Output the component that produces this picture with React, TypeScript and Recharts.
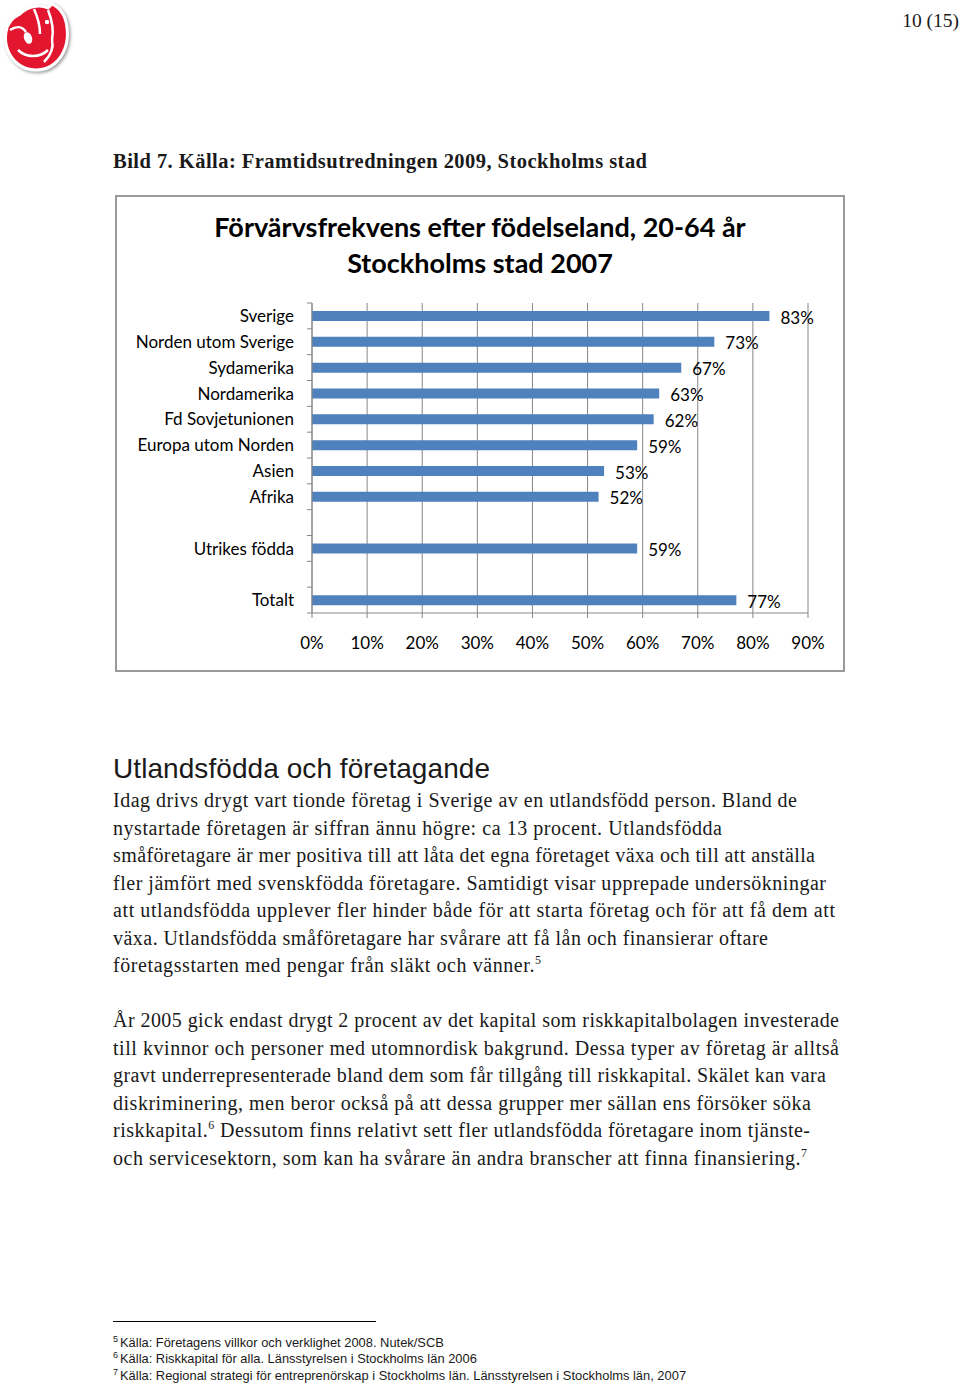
import React from "react";
import { BarChart, Bar, XAxis, YAxis, CartesianGrid, LabelList } from "recharts";

const categories = [
  "Sverige",
  "Norden utom Sverige",
  "Sydamerika",
  "Nordamerika",
  "Fd Sovjetunionen",
  "Europa utom Norden",
  "Asien",
  "Afrika",
  "",
  "Utrikes födda",
  "",
  "Totalt",
];
const values: (number | null)[] = [83, 73, 67, 63, 62, 59, 53, 52, null, 59, null, 77];
const xTicks = [0, 10, 20, 30, 40, 50, 60, 70, 80, 90];

const paragraph1 = [
  "Idag drivs drygt vart tionde företag i Sverige av en utlandsfödd person. Bland de",
  "nystartade företagen är siffran ännu högre: ca 13 procent. Utlandsfödda",
  "småföretagare är mer positiva till att låta det egna företaget växa och till att anställa",
  "fler jämfört med svenskfödda företagare. Samtidigt visar upprepade undersökningar",
  "att utlandsfödda upplever fler hinder både för att starta företag och för att få dem att",
  "växa. Utlandsfödda småföretagare har svårare att få lån och finansierar oftare",
  "företagsstarten med pengar från släkt och vänner.|5",
];
const paragraph1Widths = [684, 609, 702, 713, 722, 655, 428];
const paragraph2 = [
  "År 2005 gick endast drygt 2 procent av det kapital som riskkapitalbolagen investerade",
  "till kvinnor och personer med utomnordisk bakgrund. Dessa typer av företag är alltså",
  "gravt underrepresenterade bland dem som får tillgång till riskkapital. Skälet kan vara",
  "diskriminering, men beror också på att dessa grupper mer sällan ens försöker söka",
  "riskkapital.|6| Dessutom finns relativt sett fler utlandsfödda företagare inom tjänste-",
  "och servicesektorn, som kan ha svårare än andra branscher att finna finansiering.|7",
];
const paragraph2Widths = [726, 726, 713, 698, 697, 694];
const footnotes = [
  ["5", "Källa: Företagens villkor och verklighet 2008. Nutek/SCB"],
  ["6", "Källa: Riskkapital för alla. Länsstyrelsen i Stockholms län 2006"],
  ["7", "Källa: Regional strategi för entreprenörskap i Stockholms län. Länsstyrelsen i Stockholms län, 2007"],
];

const data = categories.map((name, i) => ({ id: i, name, value: values[i] }));

const CHART_FONT = "Lato, 'Open Sans', sans-serif";
const SERIF = "'Liberation Serif', 'DejaVu Serif', serif";
const SANS = "'Liberation Sans', Arial, sans-serif";
const GRID = "#868686";
const BAR = "#4F81BD";
const TEXT = "#1a1a1a";

const PLOT_H = 310;
const Y_TICK_SIZE = 5;
const Y_TICK_MARGIN = 13;

function YTick(props: any) {
  const { x, y, payload, index } = props;
  const rowH = PLOT_H / categories.length;
  const axisX = x + Y_TICK_SIZE + Y_TICK_MARGIN;
  const label = categories[payload.value] ?? "";
  return (
    <g>
      <line x1={axisX - 5} x2={axisX} y1={y - rowH / 2} y2={y - rowH / 2} stroke={GRID} />
      {index === categories.length - 1 && (
        <line x1={axisX - 5} x2={axisX} y1={y + rowH / 2} y2={y + rowH / 2} stroke={GRID} />
      )}
      <text x={x} y={y} dy="0.36em" textAnchor="end" fill="#000" fontSize={17} fontFamily={CHART_FONT}>
        {label}
      </text>
    </g>
  );
}

function SvgLine({ text, x, y, size, family, weight, width, anchor, supSize, supRise }: any) {
  const parts = String(text).split("|");
  const ss = supSize ?? size * 0.62;
  const rise = supRise ?? size * 0.42;
  return (
    <text
      x={x}
      y={y}
      fontSize={size}
      fontFamily={family}
      fontWeight={weight || "normal"}
      fill={TEXT}
      textAnchor={anchor || "start"}
      textLength={width}
      lengthAdjust={width ? "spacing" : undefined}
      style={{ whiteSpace: "pre" }}
    >
      {parts.map((p, i) =>
        i % 2 === 1 ? (
          <tspan key={i} fontSize={ss} dy={-rise}>
            {p}
          </tspan>
        ) : (
          <tspan key={i} dy={i > 0 ? rise : 0}>
            {p}
          </tspan>
        )
      )}
    </text>
  );
}

function Logo() {
  return (
    <svg width={80} height={80} style={{ position: "absolute", left: 0, top: 0 }}>
      <defs>
        <filter id="sh" x="-20%" y="-20%" width="140%" height="140%">
          <feDropShadow dx="1.5" dy="1.5" stdDeviation="1.5" floodColor="#999" />
        </filter>
      </defs>
      <g filter="url(#sh)">
        <path
          d="M20 14 C28 6 40 4 48 8 L52 4 C60 8 66 16 67 28 C69 42 64 56 54 64 C44 72 28 72 18 64 C8 56 4 44 6 32 C7 24 12 18 20 14 Z"
          fill="#E2142D"
          stroke="#fff"
          strokeWidth={3}
        />
        <path d="M34 9 C38 18 40 26 40 34" stroke="#fff" strokeWidth={2.5} fill="none" />
        <path d="M48 10 C52 20 54 30 52 40" stroke="#fff" strokeWidth={2.5} fill="none" />
        <path d="M18 50 C26 58 40 58 48 50" stroke="#fff" strokeWidth={2.5} fill="none" />
        <path d="M52 40 C54 48 50 56 44 62" stroke="#fff" strokeWidth={2.5} fill="none" />
        <path d="M10 30 C16 26 22 26 26 32" stroke="#fff" strokeWidth={2.5} fill="none" />
        <ellipse cx={28} cy={38} rx={4} ry={6} fill="#fff" transform="rotate(-20 28 38)" />
        <circle cx={47} cy={22} r={2.2} fill="#fff" />
      </g>
    </svg>
  );
}

export default function App() {
  const lineGap = 27.55;
  return (
    <div style={{ position: "absolute", left: 0, top: 0, width: 960, height: 1383, background: "#fff", overflow: "hidden" }}>
      <Logo />
      <svg width={960} height={1383} style={{ position: "absolute", left: 0, top: 0 }}>
        <SvgLine text="10 (15)" x={959} y={27} size={19.5} family={SERIF} anchor="end" />
        <SvgLine
          text="Bild 7. Källa: Framtidsutredningen 2009, Stockholms stad"
          x={113}
          y={168}
          size={20.5}
          family={SERIF}
          weight="bold"
          width={534}
        />
        <SvgLine text="Utlandsfödda och företagande" x={113} y={777.5} size={28} family={SANS} width={377} />
        {paragraph1.map((t, i) => (
          <SvgLine
            key={"p1" + i}
            text={t}
            x={113}
            y={807 + i * lineGap}
            size={20}
            family={SERIF}
            width={paragraph1Widths[i]}
            supSize={12}
            supRise={8}
          />
        ))}
        {paragraph2.map((t, i) => (
          <SvgLine
            key={"p2" + i}
            text={t}
            x={113}
            y={1027 + i * lineGap}
            size={20}
            family={SERIF}
            width={paragraph2Widths[i]}
            supSize={12}
            supRise={8}
          />
        ))}
        <line x1={113} x2={376} y1={1321.5} y2={1321.5} stroke="#000" strokeWidth={1} />
        {footnotes.map(([n, t], i) => (
          <g key={"f" + i}>
            <text x={113} y={1341.5 + i * 16.8} fontSize={9} fontFamily={SANS} fill={TEXT}>
              {n}
            </text>
            <text x={120} y={1346.5 + i * 16.8} fontSize={12.9} fontFamily={SANS} fill={TEXT}>
              {t}
            </text>
          </g>
        ))}
      </svg>

      <div
        style={{
          position: "absolute",
          left: 115,
          top: 195,
          width: 730,
          height: 477,
          boxSizing: "border-box",
          border: "2px solid #9a9a9a",
        }}
      />
      <div
        style={{
          position: "absolute",
          left: 115,
          width: 730,
          top: 209,
          textAlign: "center",
          fontFamily: CHART_FONT,
          fontWeight: "bold",
          fontSize: 27,
          lineHeight: "36px",
          color: "#000",
        }}
      >
        <div>Förvärvsfrekvens efter födelseland, 20-64 år</div>
        <div>Stockholms stad 2007</div>
      </div>

      <div style={{ position: "absolute", left: 116, top: 196 }}>
        <BarChart
          width={728}
          height={475}
          data={data}
          layout="vertical"
          margin={{ top: 107, right: 36, left: 0, bottom: 0 }}
          barSize={10}
        >
          <CartesianGrid horizontal={false} vertical stroke={GRID} />
          <XAxis
            type="number"
            domain={[0, 90]}
            ticks={xTicks}
            interval={0}
            height={58}
            stroke={GRID}
            tickSize={5}
            tickMargin={19}
            tickFormatter={(v: number) => `${v}%`}
            tick={{ fill: "#000", fontSize: 17, fontFamily: CHART_FONT }}
          />
          <YAxis
            type="category"
            dataKey="id"
            width={196}
            stroke={GRID}
            interval={0}
            tickLine={false}
            tickSize={Y_TICK_SIZE}
            tickMargin={Y_TICK_MARGIN}
            tick={<YTick />}
          />
          <Bar dataKey="value" fill={BAR} isAnimationActive={false}>
            <LabelList
              dataKey="value"
              position="right"
              offset={11}
              dy={1.5}
              fill="#000"
              fontSize={17}
              fontFamily={CHART_FONT}
              formatter={(v: any) => (v == null ? "" : `${v}%`)}
            />
          </Bar>
        </BarChart>
      </div>
    </div>
  );
}
